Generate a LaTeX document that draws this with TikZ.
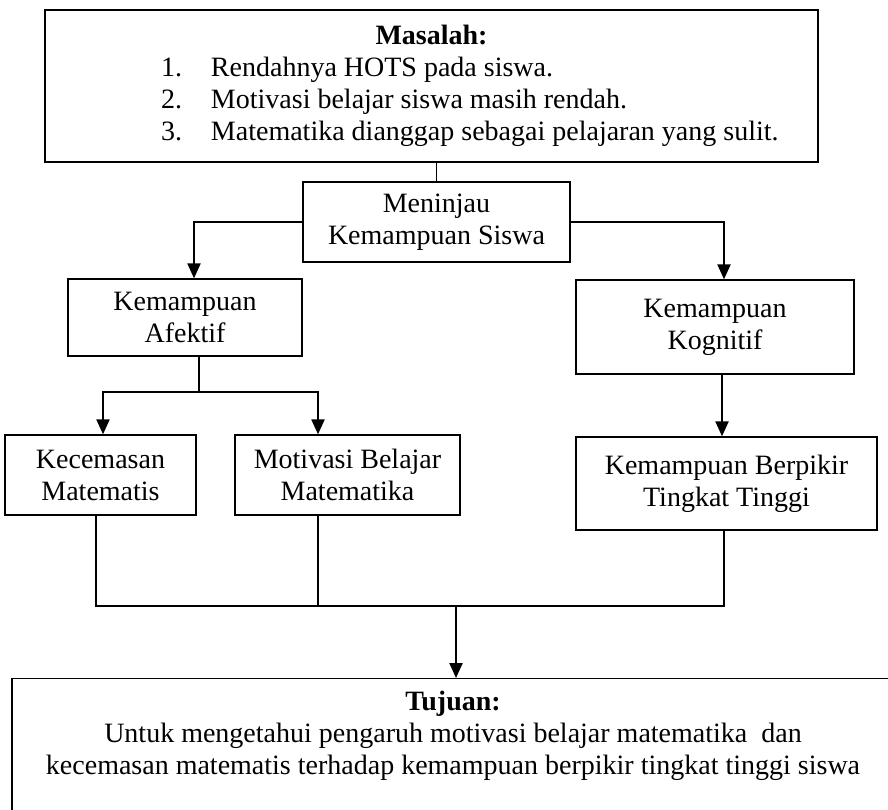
\documentclass[tikz,border=0pt]{standalone}
\usepackage{fontspec}
\setmainfont{Liberation Serif}
\usepackage{tikz}
\usetikzlibrary{arrows.meta, positioning}
\tikzstyle{kotak} = [rectangle, draw=black, line width=1.3pt, text centered, align=center,
    inner sep=0pt, font=\fontsize{28}{32}\selectfont]
\tikzstyle{garis} = [line width=1.1pt]
\tikzstyle{arrow} = [line width=2.2pt, -{Triangle[length=15pt, width=13pt]}]
\newcommand{\butir}[2]{\makebox[773pt][l]{\hspace{116pt}\makebox[50pt][l]{#1}#2}}

\begin{document}
\begin{tikzpicture}[x=1pt, y=-1pt]
    \clip (0,0) rectangle (888,810);
    \node (masalah)   [kotak, minimum width=773pt, minimum height=152pt] at (431.5,86)
        {\textbf{Masalah:}\\
         \butir{1.}{Rendahnya HOTS pada siswa.}\\
         \butir{2.}{Motivasi belajar siswa masih rendah.}\\
         \butir{3.}{Matematika dianggap sebagai pelajaran yang sulit.}};
    \node (meninjau)  [kotak, minimum width=267pt, minimum height=80pt] at (436.5,222) {Meninjau\\Kemampuan Siswa};
    \node (afektif)   [kotak, minimum width=234pt, minimum height=77pt] at (185,317.5)  {Kemampuan\\Afektif};
    \node (kognitif)  [kotak, minimum width=278pt, minimum height=94pt] at (715,327)    {Kemampuan\\Kognitif};
    \node (kecemasan) [kotak, minimum width=191pt, minimum height=80pt] at (100.5,475)  {Kecemasan\\Matematis};
    \node (motivasi)  [kotak, minimum width=225pt, minimum height=80pt] at (347.5,475)  {Motivasi Belajar\\Matematika};
    \node (berpikir)  [kotak, minimum width=301pt, minimum height=93pt] at (726.5,483.5) {Kemampuan Berpikir\\Tingkat Tinggi};
    \node (tujuan)    [kotak, minimum width=882pt, anchor=north, inner ysep=12pt] at (453,678)
        {\textbf{Tujuan:}\\
         Untuk mengetahui pengaruh motivasi belajar matematika\ \ dan\\
         kecemasan matematis terhadap kemampuan berpikir tingkat tinggi siswa\\
         \strut\\ \strut};
    \coordinate (cabang) at (199,392);
    \coordinate (gabung) at (456,606);
    \draw [garis] (masalah.south -| meninjau.north) -- (meninjau.north);
    \draw [arrow] (meninjau.west) -| ([xshift=9pt]afektif.north);
    \draw [arrow] (meninjau.east) -| ([xshift=9pt]kognitif.north);
    \draw [garis] (cabang |- afektif.south) -- (cabang);
    \draw [arrow] (cabang) -| ([xshift=2.5pt]kecemasan.north);
    \draw [arrow] (cabang) -| ([xshift=-29.5pt]motivasi.north);
    \draw [arrow] ([xshift=7pt]kognitif.south) -- ([xshift=-4.5pt]berpikir.north);
    \draw [garis] ([xshift=-4.5pt]kecemasan.south) |- (gabung);
    \draw [garis] ([xshift=-29.5pt]motivasi.south) -- ([xshift=-29.5pt]motivasi.south |- gabung);
    \draw [garis] ([xshift=-2.5pt]berpikir.south) |- (gabung);
    \draw [arrow] (gabung) -- (tujuan.north -| gabung);
\end{tikzpicture}
\end{document}
